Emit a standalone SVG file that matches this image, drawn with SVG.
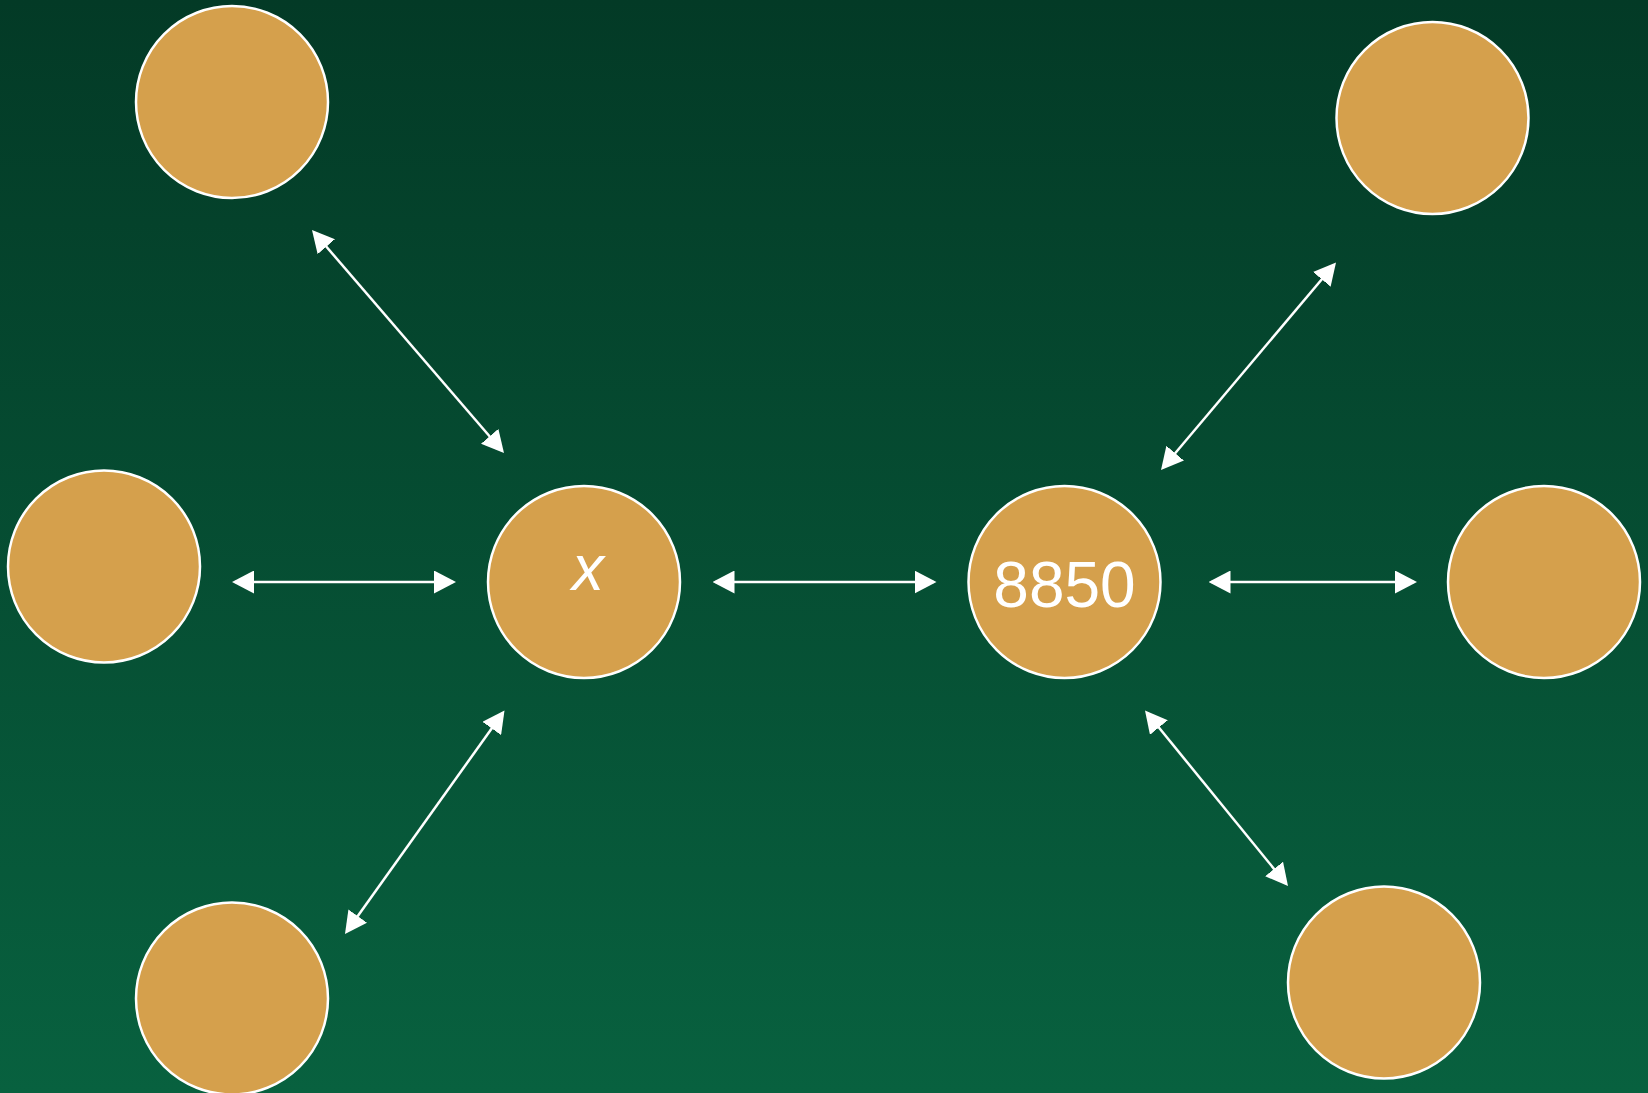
<svg xmlns="http://www.w3.org/2000/svg" width="1648" height="1093" viewBox="0 0 1648 1093">
<defs>
<linearGradient id="bg" x1="0" y1="0" x2="0" y2="1">
<stop offset="0" stop-color="#033a26"/>
<stop offset="1" stop-color="#08613f"/>
</linearGradient>
<marker id="ah" viewBox="0 0 22 23" refX="19" refY="11.5" markerWidth="22" markerHeight="23" markerUnits="userSpaceOnUse" orient="auto-start-reverse">
<path d="M0,0 L22,11.5 L0,23 z" fill="#ffffff"/>
</marker>
<style>
.n{fill:#d5a04c;stroke:#ffffff;stroke-width:2.5}
.c{stroke:#ffffff;stroke-width:2.5;fill:none;marker-start:url(#ah);marker-end:url(#ah)}
.t{fill:#ffffff;font-family:"Liberation Sans",Arial,sans-serif;font-size:64px;text-anchor:middle}
</style>
</defs>
<rect width="1648" height="1093" fill="url(#bg)"/>
<g id="connectors">
<line class="c" x1="313.96" y1="232.27" x2="502.04" y2="450.73"/>
<line class="c" x1="235" y1="582" x2="453" y2="582"/>
<line class="c" x1="502.76" y1="712.94" x2="346.74" y2="931.56"/>
<line class="c" x1="715.5" y1="582" x2="933.5" y2="582"/>
<line class="c" x1="1334.07" y1="264.79" x2="1162.93" y2="467.71"/>
<line class="c" x1="1211.5" y1="582" x2="1414" y2="582"/>
<line class="c" x1="1146.89" y1="712.83" x2="1286.11" y2="883.67"/>
</g>
<g id="node-top-left"><circle class="n" cx="232" cy="102" r="96"/></g>
<g id="node-mid-left"><circle class="n" cx="104" cy="566.5" r="96"/></g>
<g id="node-bottom-left"><circle class="n" cx="232" cy="998.5" r="96"/></g>
<g id="node-x"><circle class="n" cx="584" cy="582" r="96"/><text class="t" x="588" y="590" font-style="italic">x</text></g>
<g id="node-8850"><circle class="n" cx="1064.5" cy="582" r="96"/><text class="t" x="1064.5" y="607">8850</text></g>
<g id="node-top-right"><circle class="n" cx="1432.5" cy="118" r="96"/></g>
<g id="node-mid-right"><circle class="n" cx="1544" cy="582" r="96"/></g>
<g id="node-bottom-right"><circle class="n" cx="1384" cy="982.5" r="96"/></g>
</svg>
